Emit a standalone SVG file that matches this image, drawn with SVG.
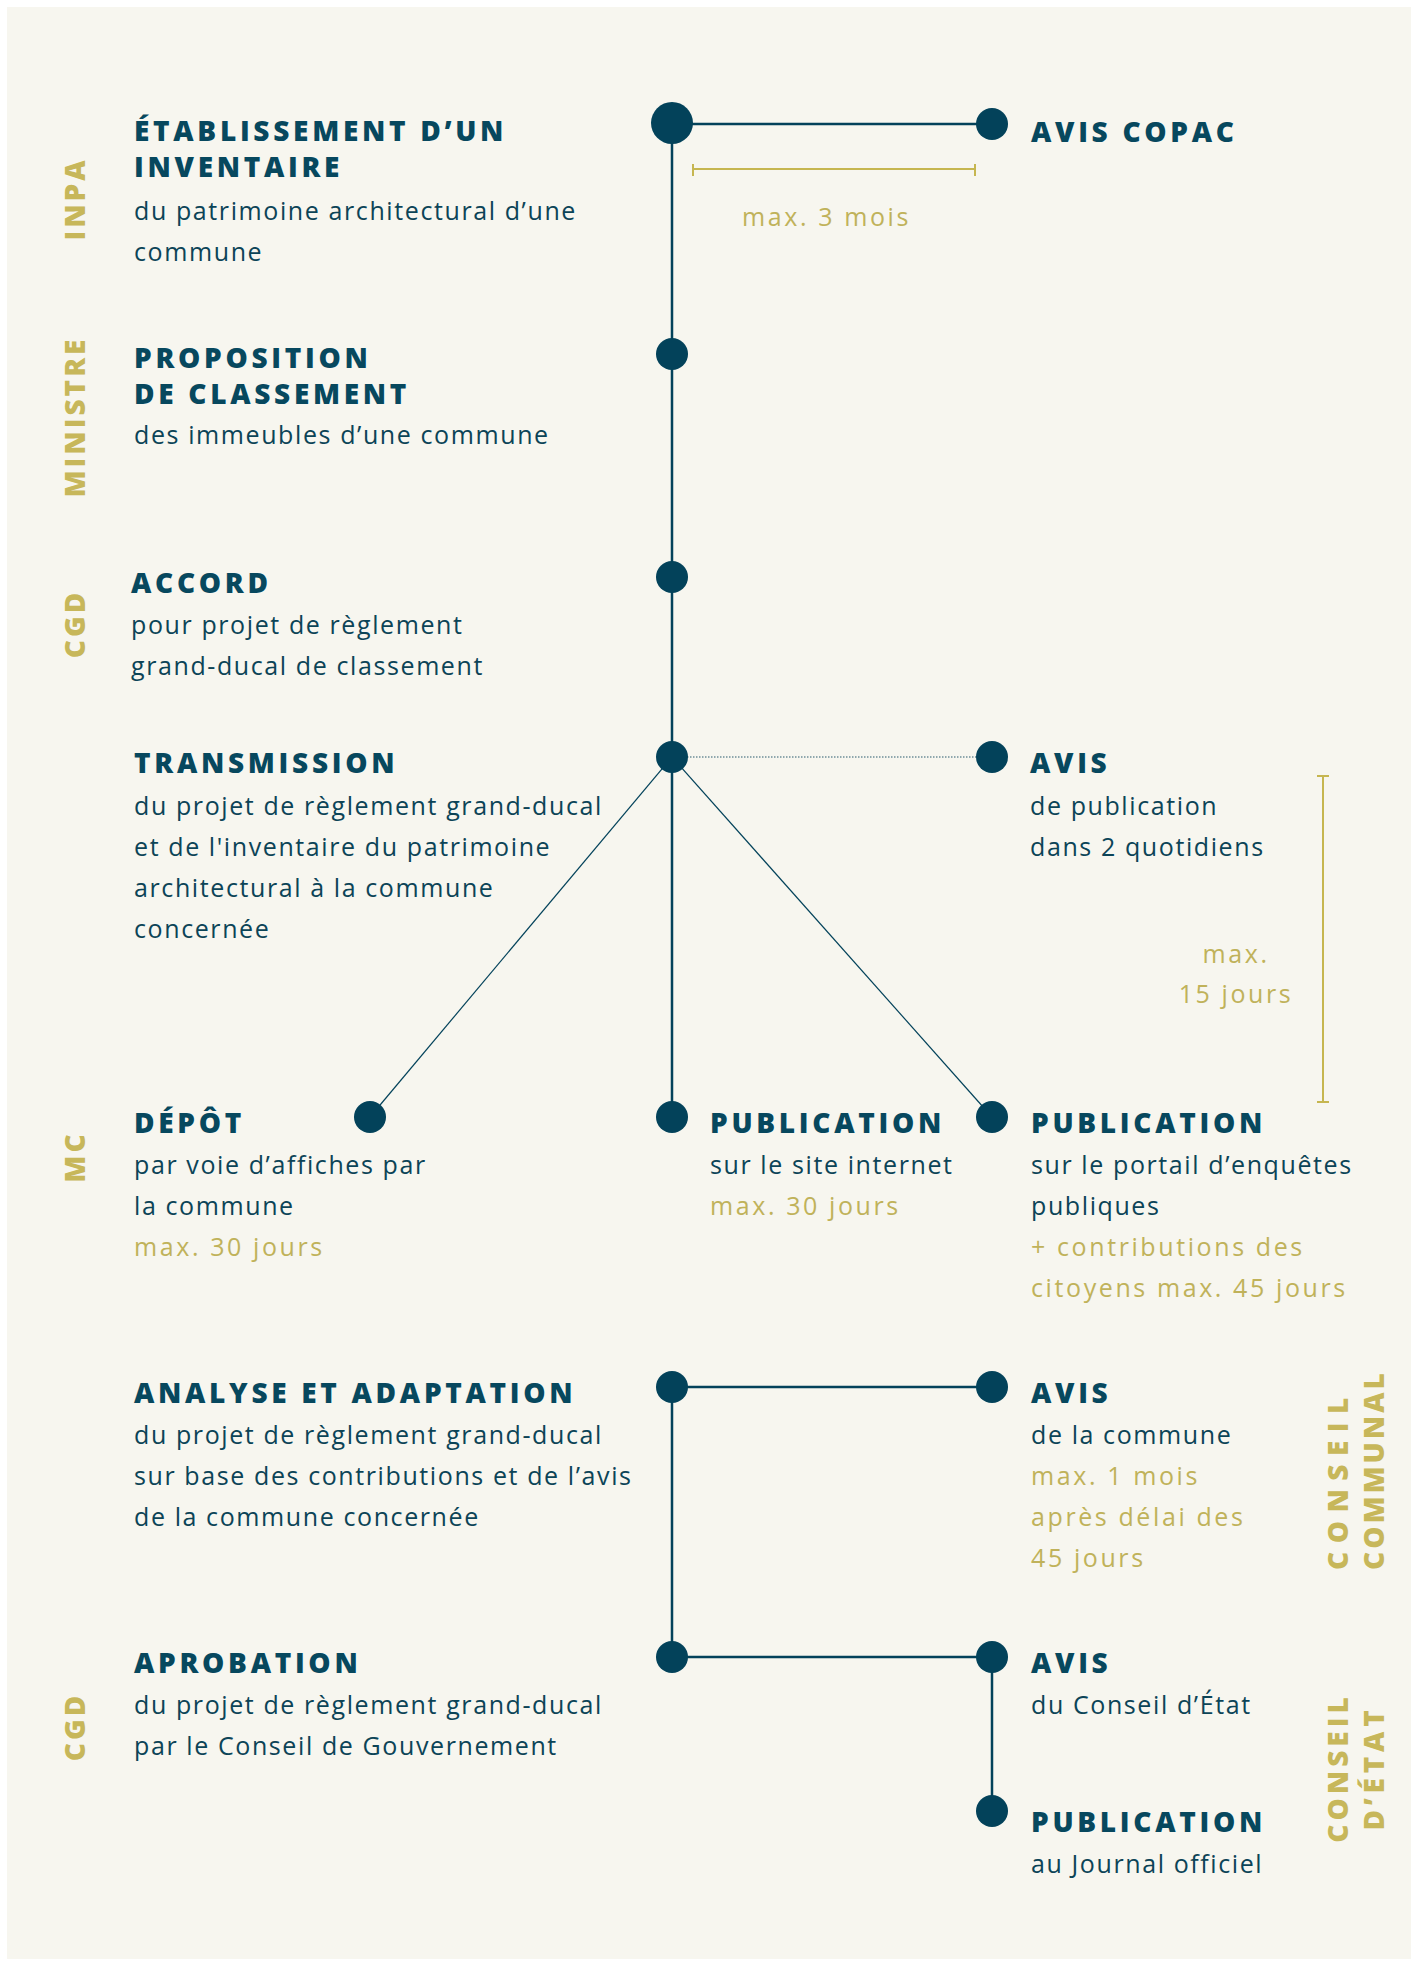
<svg xmlns="http://www.w3.org/2000/svg" width="1418" height="1966" viewBox="0 0 1418 1966">
<style>
.h{font-family:"Open Sans","Liberation Sans",sans-serif;font-weight:800;font-size:28px;letter-spacing:3.7px;fill:#07485e}
.b{font-family:"Open Sans","Liberation Sans",sans-serif;font-size:25px;letter-spacing:1.6px;fill:#0c4457}
.g{font-family:"Open Sans","Liberation Sans",sans-serif;font-size:25px;letter-spacing:2.6px;fill:#c0b25a}
.lab{font-family:"Open Sans","Liberation Sans",sans-serif;font-weight:800;font-size:28px;letter-spacing:3px;fill:#c7b75a}
.dot{fill:#03425a}
.ln{stroke:#03425a;stroke-width:2.5;fill:none}
.thin{stroke:#03425a;stroke-width:1.2;fill:none}
.gl{stroke:#c6b650;stroke-width:2;fill:none}
</style>
<rect x="0" y="0" width="1418" height="1966" fill="#ffffff"/>
<rect x="7" y="7" width="1404" height="1952" fill="#f7f6ef"/>
<g id="connectors">
<line class="ln" x1="672" y1="123" x2="672" y2="1117"/>
<line class="ln" x1="672" y1="124" x2="992" y2="124"/>
<line stroke="#6f8f99" stroke-width="1.3" stroke-dasharray="1.5 1.5" x1="672" y1="757" x2="992" y2="757"/>
<line class="thin" x1="672" y1="757" x2="370" y2="1117"/>
<line class="thin" x1="672" y1="757" x2="992" y2="1117"/>
<line class="ln" x1="672" y1="1387" x2="992" y2="1387"/>
<line class="ln" x1="672" y1="1387" x2="672" y2="1657"/>
<line class="ln" x1="672" y1="1657" x2="992" y2="1657"/>
<line class="ln" x1="992" y1="1657" x2="992" y2="1811"/>
</g>
<g id="brackets">
<path class="gl" d="M693 164V176M693 169H975M975 164V176"/>
<text class="g" x="742" y="226">max. 3 mois</text>
<path class="gl" d="M1317 776H1329M1323 776V1102M1317 1102H1329"/>
<text class="g" x="1236" y="963" text-anchor="middle">max.</text>
<text class="g" x="1236" y="1003" text-anchor="middle">15 jours</text>
</g>
<g id="labels">
<text class="lab" transform="translate(85 199) rotate(-90)" text-anchor="middle">INPA</text>
<text class="lab" transform="translate(85 417) rotate(-90)" text-anchor="middle">MINISTRE</text>
<text class="lab" transform="translate(85 624) rotate(-90)" text-anchor="middle">CGD</text>
<text class="lab" transform="translate(85 1157) rotate(-90)" text-anchor="middle">MC</text>
<text class="lab" transform="translate(85 1727) rotate(-90)" text-anchor="middle">CGD</text>
<text class="lab" transform="translate(1348 1570) rotate(-90)" style="letter-spacing:8.5px">CONSEIL</text>
<text class="lab" transform="translate(1384 1570) rotate(-90)">COMMUNAL</text>
<text class="lab" transform="translate(1348 1768) rotate(-90)" text-anchor="middle" style="letter-spacing:4px">CONSEIL</text>
<text class="lab" transform="translate(1384 1768) rotate(-90)" text-anchor="middle" style="letter-spacing:4.8px">D’ÉTAT</text>
</g>
<g id="n-inventaire">
<circle class="dot" cx="672" cy="123" r="21"/>
<text class="h" x="134" y="141">ÉTABLISSEMENT D’UN</text>
<text class="h" x="134" y="177">INVENTAIRE</text>
<text class="b" x="134" y="220">du patrimoine architectural d’une</text>
<text class="b" x="134" y="261">commune</text>
</g>
<g id="n-copac">
<circle class="dot" cx="992" cy="124" r="16"/>
<text class="h" x="1031" y="142">AVIS COPAC</text>
</g>
<g id="n-proposition">
<circle class="dot" cx="672" cy="354" r="16"/>
<text class="h" x="134" y="368">PROPOSITION</text>
<text class="h" x="134" y="404">DE CLASSEMENT</text>
<text class="b" x="134" y="444">des immeubles d’une commune</text>
</g>
<g id="n-accord">
<circle class="dot" cx="672" cy="577" r="16"/>
<text class="h" x="131" y="593">ACCORD</text>
<text class="b" x="131" y="634">pour projet de règlement</text>
<text class="b" x="131" y="675">grand-ducal de classement</text>
</g>
<g id="n-transmission">
<circle class="dot" cx="672" cy="757" r="16"/>
<text class="h" x="134" y="773">TRANSMISSION</text>
<text class="b" x="134" y="815">du projet de règlement grand-ducal</text>
<text class="b" x="134" y="856">et de l'inventaire du patrimoine</text>
<text class="b" x="134" y="897">architectural à la commune</text>
<text class="b" x="134" y="938">concernée</text>
</g>
<g id="n-avis-publication">
<circle class="dot" cx="992" cy="757" r="16"/>
<text class="h" x="1030" y="773">AVIS</text>
<text class="b" x="1030" y="815">de publication</text>
<text class="b" x="1030" y="856">dans 2 quotidiens</text>
</g>
<g id="n-depot">
<circle class="dot" cx="370" cy="1117" r="16"/>
<text class="h" x="134" y="1133">DÉPÔT</text>
<text class="b" x="134" y="1174">par voie d’affiches par</text>
<text class="b" x="134" y="1215">la commune</text>
<text class="g" x="134" y="1256">max. 30 jours</text>
</g>
<g id="n-publication-site">
<circle class="dot" cx="672" cy="1117" r="16"/>
<text class="h" x="710" y="1133">PUBLICATION</text>
<text class="b" x="710" y="1174">sur le site internet</text>
<text class="g" x="710" y="1215">max. 30 jours</text>
</g>
<g id="n-publication-portail">
<circle class="dot" cx="992" cy="1117" r="16"/>
<text class="h" x="1031" y="1133">PUBLICATION</text>
<text class="b" x="1031" y="1174">sur le portail d’enquêtes</text>
<text class="b" x="1031" y="1215">publiques</text>
<text class="g" x="1031" y="1256">+ contributions des</text>
<text class="g" x="1031" y="1297">citoyens max. 45 jours</text>
</g>
<g id="n-analyse">
<circle class="dot" cx="672" cy="1387" r="16"/>
<text class="h" x="134" y="1403">ANALYSE ET ADAPTATION</text>
<text class="b" x="134" y="1444">du projet de règlement grand-ducal</text>
<text class="b" x="134" y="1485">sur base des contributions et de l’avis</text>
<text class="b" x="134" y="1526">de la commune concernée</text>
</g>
<g id="n-avis-commune">
<circle class="dot" cx="992" cy="1387" r="16"/>
<text class="h" x="1031" y="1403">AVIS</text>
<text class="b" x="1031" y="1444">de la commune</text>
<text class="g" x="1031" y="1485">max. 1 mois</text>
<text class="g" x="1031" y="1526">après délai des</text>
<text class="g" x="1031" y="1567">45 jours</text>
</g>
<g id="n-aprobation">
<circle class="dot" cx="672" cy="1657" r="16"/>
<text class="h" x="134" y="1673">APROBATION</text>
<text class="b" x="134" y="1714">du projet de règlement grand-ducal</text>
<text class="b" x="134" y="1755">par le Conseil de Gouvernement</text>
</g>
<g id="n-avis-etat">
<circle class="dot" cx="992" cy="1657" r="16"/>
<text class="h" x="1031" y="1673">AVIS</text>
<text class="b" x="1031" y="1714">du Conseil d’État</text>
</g>
<g id="n-journal">
<circle class="dot" cx="992" cy="1811" r="16"/>
<text class="h" x="1031" y="1832">PUBLICATION</text>
<text class="b" x="1031" y="1873">au Journal officiel</text>
</g>
</svg>
